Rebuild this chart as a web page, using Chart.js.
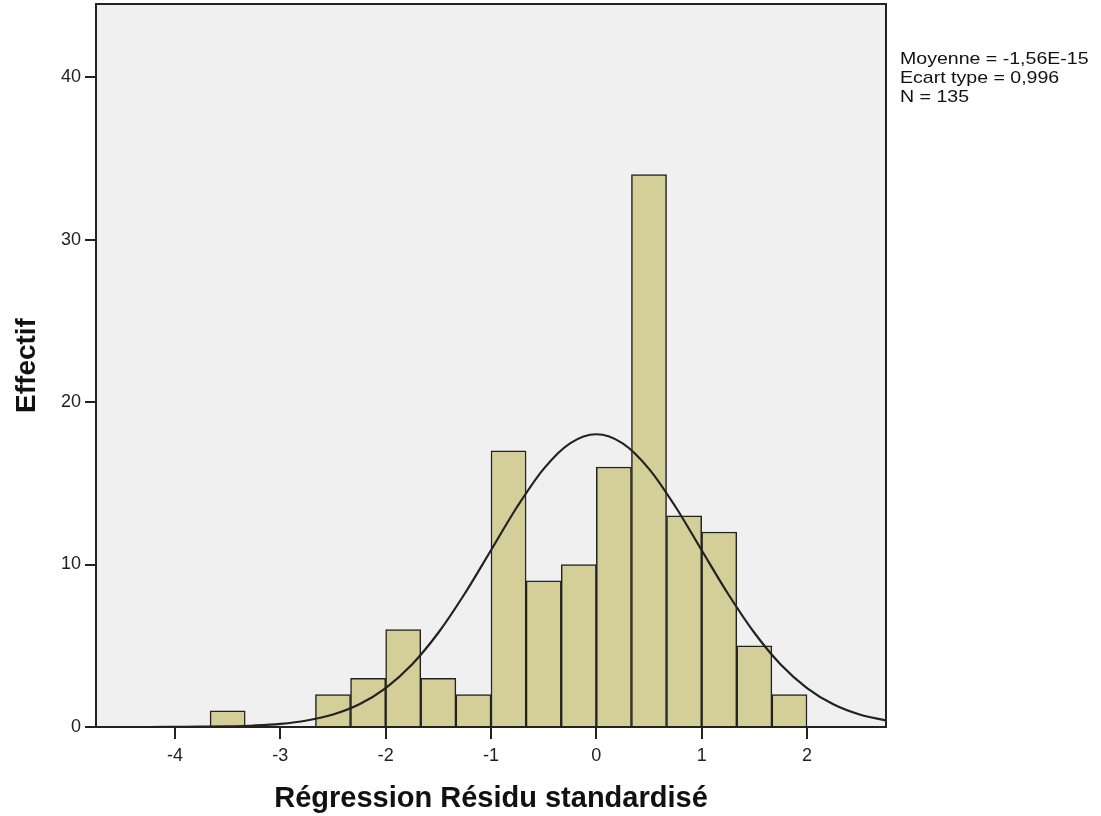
<!DOCTYPE html>
<html>
<head>
<meta charset="utf-8">
<script src="https://cdn.jsdelivr.net/npm/chart.js@4/dist/chart.umd.min.js"></script>
<style>
  body { margin: 0; background: #fff; }
  #wrap { width: 1101px; height: 816px; position: relative; }
</style>
</head>
<body>
<div id="wrap"><canvas id="chart"></canvas></div>
<script>
// histogram bins (width 1/3), centres and counts
const binCenters = [-3.5, -3.1667, -2.8333, -2.5, -2.1667, -1.8333, -1.5, -1.1667, -0.8333, -0.5, -0.1667, 0.1667, 0.5, 0.8333, 1.1667, 1.5, 1.8333]
const binCounts  = [1, 0, 0, 2, 3, 6, 3, 2, 17, 9, 10, 16, 34, 13, 12, 5, 2]

// normal curve, read at every 0.25
const curveX = [-4.75, -4.5, -4.25, -4, -3.75, -3.5, -3.25, -3, -2.75, -2.5, -2.25, -2, -1.75, -1.5, -1.25, -1, -0.75, -0.5, -0.25, 0, 0.25, 0.5, 0.75, 1, 1.25, 1.5, 1.75, 2, 2.25, 2.5, 2.75]
const curveY = [0, 0, 0, 0.01, 0.02, 0.04, 0.09, 0.19, 0.4, 0.77, 1.4, 2.4, 3.85, 5.8, 8.2, 10.88, 13.57, 15.89, 17.46, 18.02, 17.46, 15.89, 13.57, 10.88, 8.2, 5.8, 3.85, 2.4, 1.4, 0.77, 0.4]

const statLines = ['Moyenne = -1,56E-15', 'Ecart type = 0,996', 'N = 135']

const FONT = '"Liberation Sans", Arial, sans-serif'
const INK = '#222'

// grey plot background + frame + stats text
const frame = {
  id: 'frame',
  beforeDatasetsDraw(chart) {
    const { ctx, chartArea: a } = chart
    ctx.save()
    ctx.fillStyle = '#f0f0f0'
    ctx.fillRect(a.left, a.top, a.right - a.left, a.bottom - a.top)
    ctx.restore()
  },
  afterDraw(chart) {
    const { ctx, chartArea: a } = chart
    ctx.save()
    ctx.strokeStyle = INK
    ctx.lineWidth = 2
    ctx.strokeRect(a.left, a.top, a.right - a.left, a.bottom - a.top)
    ctx.fillStyle = '#111'
    ctx.font = '17px ' + FONT
    ctx.textBaseline = 'alphabetic'
    // the source text is a little wide, stretch it sideways
    ctx.translate(a.right + 14, 0)
    ctx.scale(1.15, 1)
    statLines.forEach((t, i) => ctx.fillText(t, 0, 64 + i * 19))
    ctx.restore()
  }
}

new Chart(document.getElementById('chart'), {
  type: 'bar',
  data: {
    datasets: [
      {
        type: 'line',
        data: curveX.map((x, i) => ({ x, y: curveY[i] })),
        borderColor: INK,
        borderWidth: 2.2,
        pointRadius: 0,
        cubicInterpolationMode: 'monotone',
        fill: false,
        order: 0
      },
      {
        data: binCenters.map((x, i) => ({ x, y: binCounts[i] })),
        backgroundColor: '#d4cf99',
        borderColor: INK,
        borderWidth: 1.5,
        barPercentage: 1,
        categoryPercentage: 1,
        order: 1
      }
    ]
  },
  options: {
    responsive: true,
    maintainAspectRatio: false,
    animation: false,
    layout: { padding: { top: 4, right: 215, left: 0, bottom: 0 } },
    plugins: { legend: { display: false }, tooltip: { enabled: false } },
    scales: {
      x: {
        type: 'linear',
        offset: false,
        min: -4.75,
        max: 2.75,
        afterFit: s => { s.height = 89; s.paddingLeft = 0; s.paddingRight = 0 },
        ticks: { stepSize: 1, includeBounds: false, padding: 6, color: INK, font: { family: FONT, size: 18 } },
        grid: { drawOnChartArea: false, drawTicks: true, tickLength: 12, color: INK, lineWidth: 2, offset: false },
        border: { display: true, color: INK, width: 2 },
        title: { display: true, text: 'Régression Résidu standardisé', color: '#111', font: { family: FONT, size: 29, weight: 'bold' }, padding: { top: 0, bottom: 0 } }
      },
      y: {
        min: 0,
        max: 44.5,
        afterFit: s => { s.width = 96; s.paddingTop = 0; s.paddingBottom = 0 },
        ticks: { stepSize: 10, includeBounds: false, padding: 4, color: INK, font: { family: FONT, size: 18 } },
        grid: { drawOnChartArea: false, drawTicks: true, tickLength: 11, color: INK, lineWidth: 2 },
        border: { display: true, color: INK, width: 2 },
        title: { display: true, text: 'Effectif', color: '#111', font: { family: FONT, size: 28, weight: 'bold' }, padding: { top: 10, bottom: 0 } }
      }
    }
  },
  plugins: [frame]
})
</script>
</body>
</html>
